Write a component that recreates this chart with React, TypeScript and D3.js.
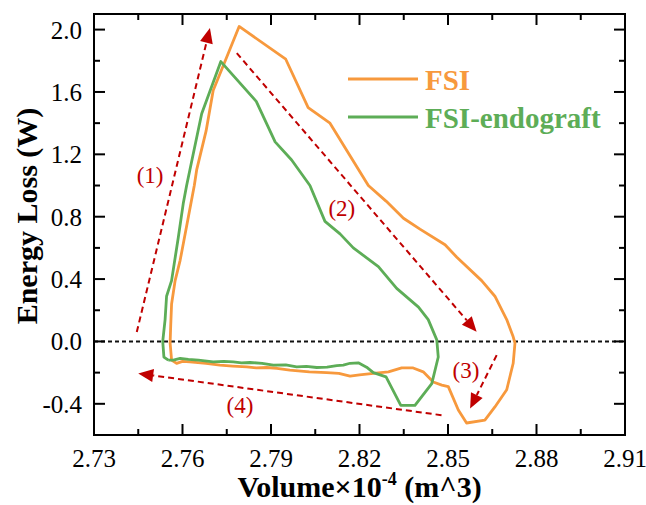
import React from "react";
import * as d3 from "d3";

// ---- data ----
const fsiVolume = [
  2.7563, 2.7558, 2.7560, 2.7563, 2.7575, 2.7592, 2.7620, 2.7640, 2.7648, 2.7680, 2.7704, 2.7792,
  2.7950, 2.8026, 2.8100, 2.8230, 2.8290, 2.8349, 2.8405, 2.8490, 2.8530, 2.8614, 2.8659, 2.8699,
  2.8721, 2.8727, 2.8721, 2.8699, 2.8659, 2.8625, 2.8563, 2.8535, 2.8501, 2.8479, 2.8450, 2.8416,
  2.8382, 2.8343, 2.8298, 2.8247, 2.8200, 2.8168, 2.8130, 2.8089, 2.8030, 2.7964, 2.7920, 2.7885,
  2.7850, 2.7818, 2.7770, 2.7727, 2.7680, 2.7625, 2.7600, 2.7580, 2.7563,
];
const fsiLoss = [
  -0.12, -0.01, 0.10, 0.24, 0.39, 0.52, 0.80, 1.00, 1.10, 1.35, 1.61, 2.02,
  1.81, 1.50, 1.40, 1.00, 0.90, 0.79, 0.72, 0.62, 0.54, 0.39, 0.29, 0.14,
  0.03, -0.01, -0.14, -0.31, -0.42, -0.505, -0.523, -0.44, -0.29, -0.28, -0.26, -0.195,
  -0.17, -0.17, -0.195, -0.205, -0.215, -0.223, -0.205, -0.20, -0.195, -0.184, -0.172, -0.167,
  -0.170, -0.163, -0.158, -0.152, -0.140, -0.131, -0.128, -0.141, -0.12,
];
const endoVolume = [
  2.7552, 2.7537, 2.7533, 2.7541, 2.7546, 2.7563, 2.7586, 2.7603, 2.7614, 2.7625, 2.7665, 2.7730,
  2.7850, 2.7914, 2.7970, 2.8032, 2.8083, 2.8134, 2.8179, 2.8264, 2.8326, 2.8400, 2.8433, 2.8462,
  2.8467, 2.8445, 2.8388, 2.8340, 2.8290, 2.8247, 2.8224, 2.8196, 2.8168, 2.8145, 2.8123, 2.8090,
  2.8055, 2.8020, 2.7987, 2.7950, 2.7908, 2.7870, 2.7829, 2.7800, 2.7772, 2.7740, 2.7704, 2.7654,
  2.7620, 2.7592, 2.7569, 2.7552,
];
const endoLoss = [
  -0.12, -0.10, 0.00, 0.14, 0.29, 0.39, 0.67, 0.89, 1.00, 1.10, 1.46, 1.795,
  1.54, 1.28, 1.164, 1.00, 0.77, 0.69, 0.60, 0.48, 0.34, 0.22, 0.14, 0.01,
  -0.10, -0.27, -0.41, -0.41, -0.227, -0.20, -0.165, -0.137, -0.14, -0.152, -0.155, -0.165,
  -0.167, -0.160, -0.163, -0.150, -0.152, -0.140, -0.135, -0.138, -0.131, -0.128, -0.131, -0.12,
  -0.115, -0.109, -0.12, -0.12,
];

const xTicks = [2.73, 2.76, 2.79, 2.82, 2.85, 2.88, 2.91];
const xTickLabels = ["2.73", "2.76", "2.79", "2.82", "2.85", "2.88", "2.91"];
const yTicks = [-0.4, 0.0, 0.4, 0.8, 1.2, 1.6, 2.0];
const yTickLabels = ["-0.4", "0.0", "0.4", "0.8", "1.2", "1.6", "2.0"];

const seriesNames = ["FSI", "FSI-endograft"];

// annotation arrows (tail -> head) in data units
const arrowTailX = [2.7445, 2.7784, 2.8665, 2.8478];
const arrowTailY = [0.06, 1.849, -0.088, -0.473];
const arrowHeadX = [2.7693, 2.8597, 2.8575, 2.745];
const arrowHeadY = [2.01, 0.062, -0.43, -0.205];
const arrowLabels = ["(1)", "(2)", "(3)", "(4)"];
const labelX = [2.749, 2.814, 2.8561, 2.7795];
const labelY = [1.067, 0.854, -0.184, -0.41];

// ---- layout ----
const W = 646;
const H = 505;
const M = { left: 94, top: 14, right: 625, bottom: 435 };
const ORANGE = "#F7993D";
const GREEN = "#5DAD57";
const RED = "#C00000";
const FONT = "Liberation Serif, Times New Roman, DejaVu Serif, serif";
const TS: React.CSSProperties = { fontFamily: FONT };

export default function App() {
  const x = d3.scaleLinear().domain([2.73, 2.91]).range([M.left, M.right]);
  const y = d3.scaleLinear().domain([-0.6, 2.1]).range([M.bottom, M.top]);

  const line = d3
    .line<[number, number]>()
    .x((d) => x(d[0]))
    .y((d) => y(d[1]));

  const fsiPts: [number, number][] = fsiVolume.map((v, i) => [v, fsiLoss[i]]);
  const endoPts: [number, number][] = endoVolume.map((v, i) => [v, endoLoss[i]]);

  const xMinor = d3.range(0, 13).map((i) => 2.73 + i * 0.015);
  const yMinor = d3.range(-3, 11).map((i) => i * 0.2);

  const majorLen = 11;
  const minorLen = 6;

  const arrows = arrowTailX.map((tx, i) => {
    const x0 = x(tx);
    const y0 = y(arrowTailY[i]);
    const x1 = x(arrowHeadX[i]);
    const y1 = y(arrowHeadY[i]);
    const dx = x1 - x0;
    const dy = y1 - y0;
    const len = Math.hypot(dx, dy);
    const ux = dx / len;
    const uy = dy / len;
    const hl = 15;
    const hw = 6.5;
    const bx = x1 - ux * hl;
    const by = y1 - uy * hl;
    const head = `M${x1},${y1} L${bx - uy * hw},${by + ux * hw} L${bx + uy * hw},${by - ux * hw} Z`;
    return { x0, y0, bx, by, head };
  });

  return (
    <svg
      width={W}
      height={H}
      style={{ position: "absolute", left: 0, top: 0, background: "#fff", fontFamily: FONT }}
    >
      <rect x={0} y={0} width={W} height={H} fill="#fff" />

      {/* zero line */}
      <line
        x1={M.left}
        x2={M.right}
        y1={y(0)}
        y2={y(0)}
        stroke="#111"
        strokeWidth={2}
        strokeDasharray="4,3"
      />

      {/* series */}
      <path d={line(fsiPts) || ""} fill="none" stroke={ORANGE} strokeWidth={2.8} strokeLinejoin="round" />
      <path d={line(endoPts) || ""} fill="none" stroke={GREEN} strokeWidth={2.8} strokeLinejoin="round" />

      {/* arrows */}
      {arrows.map((a, i) => (
        <g key={i}>
          <line
            x1={a.x0}
            y1={a.y0}
            x2={a.bx}
            y2={a.by}
            stroke={RED}
            strokeWidth={2}
            strokeDasharray="6,4"
          />
          <path d={a.head} fill={RED} />
        </g>
      ))}
      {arrowLabels.map((t, i) => (
        <text
          key={t}
          x={x(labelX[i])}
          y={y(labelY[i]) + 8}
          fill={RED}
          fontSize={23}
          textAnchor="middle"
          style={TS}
        >
          {t}
        </text>
      ))}

      {/* frame */}
      <rect
        x={M.left}
        y={M.top}
        width={M.right - M.left}
        height={M.bottom - M.top}
        fill="none"
        stroke="#000"
        strokeWidth={2}
      />

      {/* x ticks (inward, bottom & top) */}
      {xMinor.map((v, i) => {
        const L = i % 2 === 0 ? majorLen : minorLen;
        const px = x(v);
        return (
          <g key={"xt" + i}>
            <line x1={px} x2={px} y1={M.bottom} y2={M.bottom - L} stroke="#000" strokeWidth={2} />
            <line x1={px} x2={px} y1={M.top} y2={M.top + L} stroke="#000" strokeWidth={2} />
          </g>
        );
      })}
      {/* y ticks (inward, left & right) */}
      {yMinor.map((v, i) => {
        const L = i % 2 === 1 ? majorLen : minorLen;
        const py = y(v);
        return (
          <g key={"yt" + i}>
            <line x1={M.left} x2={M.left + L} y1={py} y2={py} stroke="#000" strokeWidth={2} />
            <line x1={M.right} x2={M.right - L} y1={py} y2={py} stroke="#000" strokeWidth={2} />
          </g>
        );
      })}

      {/* tick labels */}
      {xTicks.map((v, i) => (
        <text key={"xl" + i} x={x(v)} y={467} fontSize={25} textAnchor="middle" fill="#000" style={TS}>
          {xTickLabels[i]}
        </text>
      ))}
      {yTicks.map((v, i) => (
        <text key={"yl" + i} x={82} y={y(v) + 9} fontSize={25} textAnchor="end" fill="#000" style={TS}>
          {yTickLabels[i]}
        </text>
      ))}

      {/* axis titles */}
      <text
        x={(M.left + M.right) / 2}
        y={497}
        fontSize={30}
        fontWeight="bold"
        textAnchor="middle"
        fill="#000"
        style={TS}
      >
        Volume×10
        <tspan fontSize={18} dy={-12}>-4</tspan>
        <tspan dy={12}> (m^3)</tspan>
      </text>
      <text
        transform={`translate(37,216) rotate(-90)`}
        fontSize={30}
        fontWeight="bold"
        textAnchor="middle"
        fill="#000"
        style={TS}
      >
        Energy Loss (W)
      </text>

      {/* legend */}
      <line x1={348} x2={418} y1={79} y2={79} stroke={ORANGE} strokeWidth={3} />
      <text x={425} y={90} fontSize={29} fontWeight="bold" fill={ORANGE} style={TS}>
        {seriesNames[0]}
      </text>
      <line x1={348} x2={418} y1={117} y2={117} stroke={GREEN} strokeWidth={3} />
      <text x={425} y={128} fontSize={29} fontWeight="bold" fill={GREEN} style={TS}>
        {seriesNames[1]}
      </text>
    </svg>
  );
}
